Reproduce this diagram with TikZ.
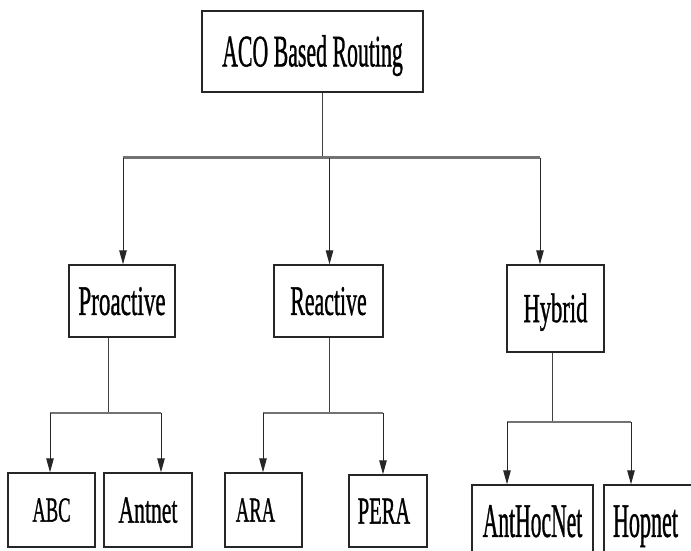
\documentclass[tikz,border=0pt]{standalone}
\usepackage{fontspec}
\setmainfont{Liberation Serif}
\newfontfamily\lblfont[FakeBold=1.2]{Liberation Serif}
\usepackage{graphicx}
\usetikzlibrary{arrows.meta}
\newcommand{\sqtxt}[3]{\lblfont\fontsize{#2}{#2}\selectfont\raisebox{-0.33em}[0pt][0pt]{\scalebox{#1}[1]{#3}}}
\tikzset{
  boxnode/.style={draw=black!85, line width=1.4pt, inner sep=0pt, text height=0pt, text depth=0pt, align=center},
  link/.style={draw=black!75, line width=1pt},
  bar/.style={draw=black!55, line width=2.2pt},
  arr/.style={draw=black!85, line width=1pt, -{Triangle[length=14pt,width=7.5pt]}}
}
\begin{document}
\begin{tikzpicture}[x=1pt,y=-1pt]
\useasboundingbox (0,0) rectangle (691,551);
% boxes
\node[boxnode, minimum width=221pt, minimum height=81pt] (root) at (312.5,51.5) {\sqtxt{0.485}{45}{ACO Based Routing}};
\node[boxnode, minimum width=106pt, minimum height=72pt] (pro) at (122,301) {\sqtxt{0.55}{42}{Proactive}};
\node[boxnode, minimum width=109pt, minimum height=72pt] (rea) at (328.5,301) {\sqtxt{0.52}{42}{Reactive}};
\node[boxnode, minimum width=97pt, minimum height=87pt] (hyb) at (555.5,308.5) {\sqtxt{0.55}{41}{Hybrid}};
\node[boxnode, minimum width=87pt, minimum height=74pt] (abc) at (51.5,510) {\sqtxt{0.53}{35}{ABC}};
\node[boxnode, minimum width=88pt, minimum height=74pt] (ant) at (148,510) {\sqtxt{0.57}{38}{Antnet}};
\node[boxnode, minimum width=77pt, minimum height=74pt] (ara) at (263.5,510) {\sqtxt{0.53}{35}{ARA}\hspace{16pt}};
\node[boxnode, minimum width=78pt, minimum height=72pt] (pera) at (388,511) {\sqtxt{0.54}{38}{PERA}\hspace{8pt}};
\node[boxnode, minimum width=121pt, minimum height=72pt] (ahn) at (532.5,521) {\sqtxt{0.45}{48}{AntHocNet}};
\node[boxnode, minimum width=96pt, minimum height=72pt] (hop) at (652,521) {\sqtxt{0.46}{48}{Hopnet}\hspace{13pt}};
% junction coordinates
\coordinate (j0) at (322,157.5);
\coordinate (b0l) at (123,157.5);
\coordinate (b0m) at (329.5,157.5);
\coordinate (b0r) at (540,157.5);
\coordinate (j1) at (108,413);
\coordinate (b1l) at (50,413);
\coordinate (b1r) at (161,413);
\coordinate (j2) at (329,413);
\coordinate (b2l) at (263,413);
\coordinate (b2r) at (383,413);
\coordinate (j3) at (552,422);
\coordinate (b3l) at (507,422);
\coordinate (b3r) at (631,422);
% level 1
\draw[link] (root.south -| j0) -- (j0);
\draw[bar] (b0l) -- (b0r);
\draw[arr] (b0l) -- (pro.north -| b0l);
\draw[arr] (b0m) -- (rea.north -| b0m);
\draw[arr] (b0r) -- (hyb.north -| b0r);
% proactive
\draw[link] (pro.south -| j1) -- (j1);
\draw[bar] (b1l) -- (b1r);
\draw[arr] (b1l) -- (abc.north -| b1l);
\draw[arr] (b1r) -- (ant.north -| b1r);
% reactive
\draw[link] (rea.south -| j2) -- (j2);
\draw[bar] (b2l) -- (b2r);
\draw[arr] (b2l) -- (ara.north -| b2l);
\draw[arr] (b2r) -- (pera.north -| b2r);
% hybrid
\draw[link] (hyb.south -| j3) -- (j3);
\draw[bar] (b3l) -- (b3r);
\draw[arr] (b3l) -- (ahn.north -| b3l);
\draw[arr] (b3r) -- (hop.north -| b3r);
\end{tikzpicture}
\end{document}
